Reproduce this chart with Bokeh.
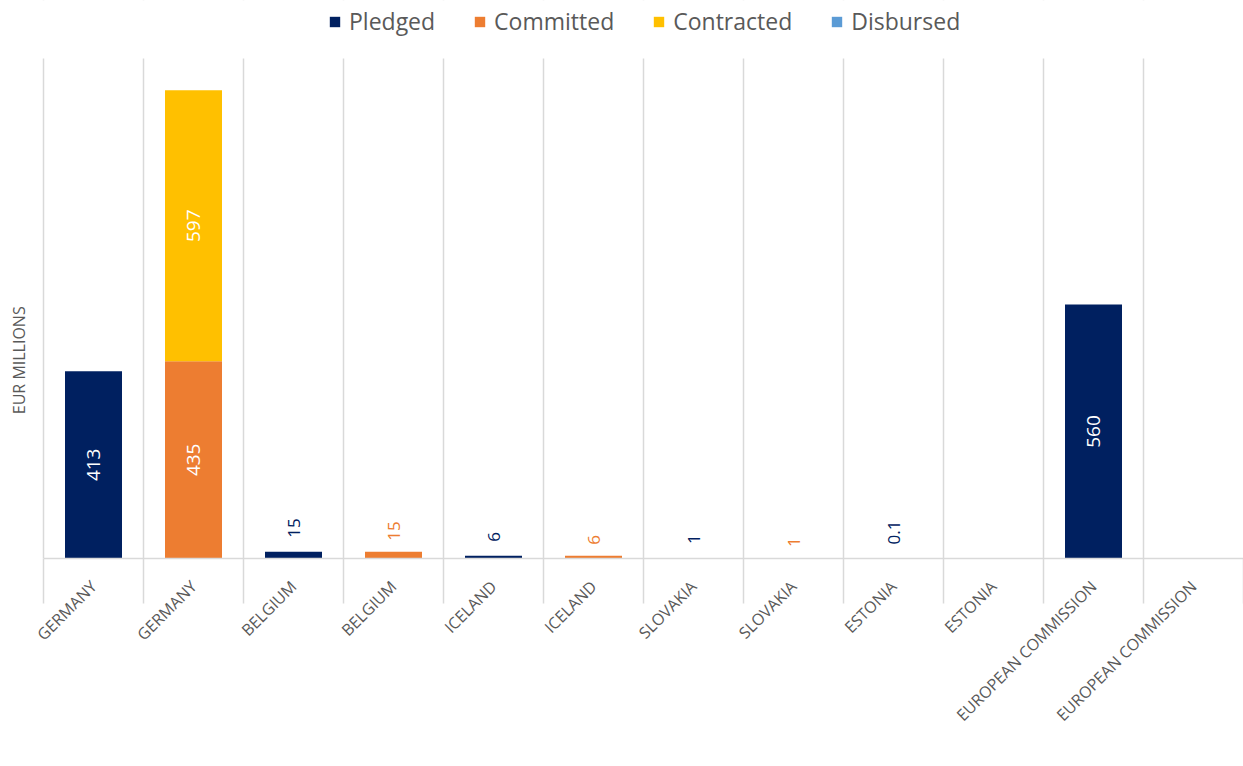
import math
from bokeh.plotting import figure
from bokeh.models import (Range1d, FixedTicker, Legend, LegendItem, Label,
                          BoxAnnotation, ColumnDataSource)
from bokeh.core.properties import value
from bokeh.embed import file_html
from bokeh.resources import INLINE

# ---- data ----
categories = ["GERMANY", "GERMANY", "BELGIUM", "BELGIUM", "ICELAND", "ICELAND",
              "SLOVAKIA", "SLOVAKIA", "ESTONIA", "ESTONIA",
              "EUROPEAN COMMISSION", "EUROPEAN COMMISSION"]
series = ["Pledged", "Committed", "Contracted", "Disbursed"]
pledged = [413, 0, 15, 0, 6, 0, 1, 0, 0.1, 0, 560, 0]
committed = [0, 435, 0, 15, 0, 6, 0, 1, 0, 0, 0, 0]
contracted = [0, 597, 0, 0, 0, 0, 0, 0, 0, 0, 0, 0]
disbursed = [0, 0, 0, 0, 0, 0, 0, 0, 0, 0, 0, 0]
colors = ["#002060", "#ED7D31", "#FFC000", "#5B9BD5"]
y_title = "EUR MILLIONS"

FONT = "Open Sans"
GREY = "#595959"
LINE = "#d9d9d9"
Y_AXIS_MAX = 1102       # top of the plotting area (where grid lines stop)
Y_TOP = 1230            # extra headroom used for the legend
FRAME_H = 558
upp = Y_TOP / FRAME_H   # data units per pixel

n = len(categories)
xs = [i + 0.5 for i in range(n)]
src = ColumnDataSource(dict(x=xs, Pledged=pledged, Committed=committed,
                            Contracted=contracted, Disbursed=disbursed))

p = figure(width=1243, height=766, x_range=Range1d(-0.43, n), y_range=Range1d(0, Y_TOP),
           output_backend="svg", toolbar_location=None, y_axis_location=None,
           min_border_left=0, min_border_right=0, min_border_top=0,
           min_border_bottom=208)
p.outline_line_color = None
p.background_fill_color = "white"
p.border_fill_color = "white"

renderers = p.vbar_stack(series, x="x", width=0.57, color=colors, line_color=None,
                         source=src)

# grid at category boundaries
p.xgrid.ticker = FixedTicker(ticks=list(range(n + 1)))
p.xgrid.grid_line_color = LINE
p.xgrid.grid_line_width = 1.5
p.ygrid.visible = False

# mask grid above plotting area (legend band)
p.add_layout(BoxAnnotation(bottom=Y_AXIS_MAX, fill_color="white", fill_alpha=1,
                           line_color=None))

# x axis: labels at centres, long minor ticks at boundaries
p.xaxis.bounds = (0, n)
p.xaxis.ticker = FixedTicker(ticks=xs, minor_ticks=list(range(n + 1)))
p.xaxis.major_label_overrides = {x: c for x, c in zip(xs, categories)}
p.xaxis.major_label_orientation = math.pi / 4
p.xaxis.axis_line_color = LINE
p.xaxis.axis_line_width = 1.5
p.xaxis.major_tick_line_color = None
p.xaxis.major_tick_out = 0
p.xaxis.major_tick_in = 0
p.xaxis.minor_tick_line_color = LINE
p.xaxis.minor_tick_line_width = 1.5
p.xaxis.minor_tick_out = 45
p.xaxis.minor_tick_in = 0
p.xaxis.major_label_text_font = FONT
p.xaxis.major_label_text_font_size = "16px"
p.xaxis.major_label_text_color = GREY
p.xaxis.major_label_standoff = -20

# y title
p.add_layout(Label(x=-0.25, y=437, text=y_title, angle=math.pi / 2,
                   text_align="center", text_baseline="middle",
                   text_font=FONT, text_font_size="16px", text_color=GREY))

# data labels
gaps = {"Pledged": 14, "Committed": 11, "Contracted": 11, "Disbursed": 11}
cum = [0.0] * n
ins = dict(x=[], y=[], t=[])
out = dict(x=[], y=[], t=[], c=[])
for s, vals, col in zip(series, [pledged, committed, contracted, disbursed], colors):
    for i, v in enumerate(vals):
        if v > 0:
            if v >= 100:
                ins["x"].append(xs[i]); ins["y"].append(cum[i] + v / 2)
                ins["t"].append(f"{v:g}")
            else:
                out["x"].append(xs[i]); out["y"].append(cum[i] + v + gaps[s] * upp)
                out["t"].append(f"{v:g}"); out["c"].append(col)
        cum[i] += v

p.text(x="x", y="y", text="t", source=ColumnDataSource(ins), angle=math.pi / 2,
       text_align="center", text_baseline="middle", text_color="white",
       text_font=value(FONT), text_font_size="19px")
p.text(x="x", y="y", text="t", source=ColumnDataSource(out), angle=math.pi / 2,
       text_align="left", text_baseline="middle", text_color="c",
       text_font=value(FONT), text_font_size="17px")

legend = Legend(items=[LegendItem(label=s, renderers=[r]) for s, r in zip(series, renderers)],
                orientation="horizontal", location=(328, 521),
                label_text_font=FONT, label_text_font_size="23px", label_text_color=GREY,
                label_height=26, glyph_width=13, glyph_height=13, label_standoff=8,
                spacing=38, padding=0, margin=0, border_line_color=None,
                background_fill_alpha=0)
p.add_layout(legend)

open("out.html", "w").write(file_html(p, INLINE))
